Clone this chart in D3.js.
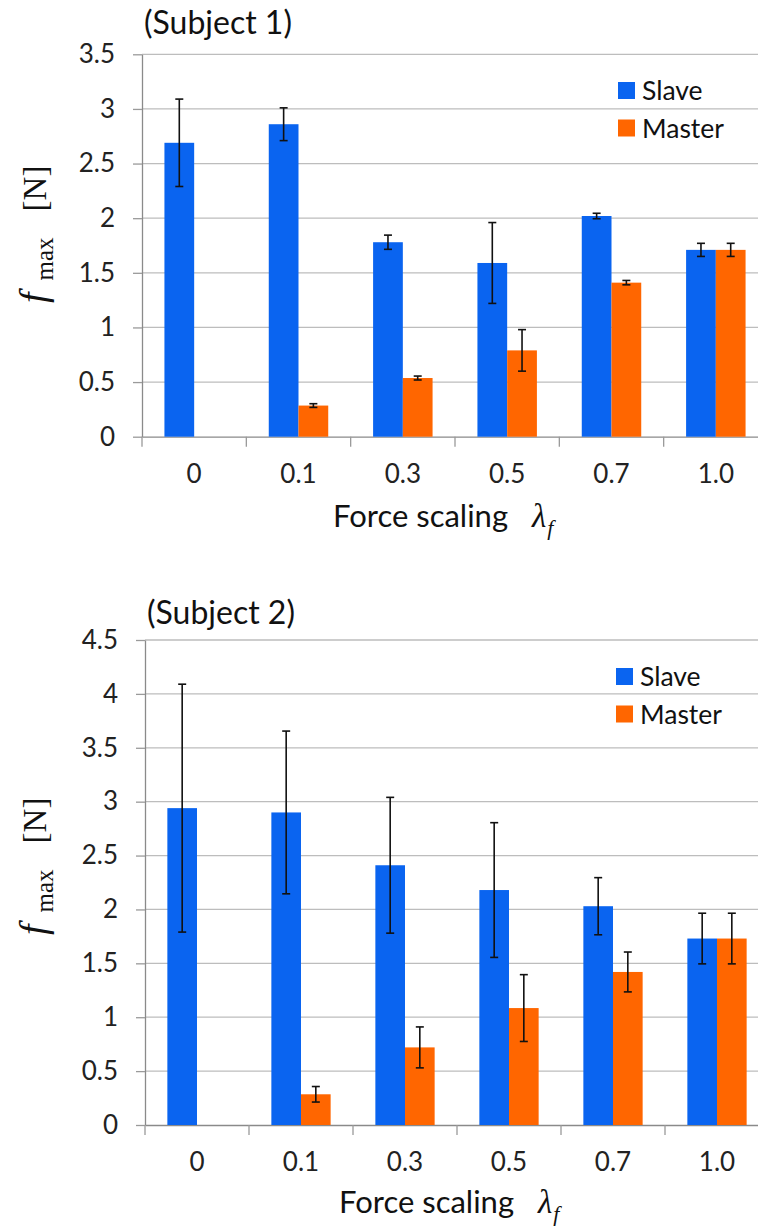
<!DOCTYPE html>
<head>
    <style>
        body { margin: 0; background: #fff; }
        svg { display: block; background: #fff; }
        .tick text { font-family: Lato, sans-serif; fill: #222; }
    </style>
</head>
<body>
    <script src="https://d3js.org/d3.v7.min.js"></script>
    <script>
        // force scaling categories (shared by both subjects)
        var categories = ['0', '0.1', '0.3', '0.5', '0.7', '1.0'];

        // subject 1
        var s1Ticks = [0, 0.5, 1, 1.5, 2, 2.5, 3, 3.5];
        var s1Slave = [2.69, 2.86, 1.78, 1.59, 2.02, 1.71];
        var s1SlaveErr = [0.40, 0.15, 0.065, 0.37, 0.025, 0.06];
        var s1Master = [null, 0.285, 0.537, 0.79, 1.41, 1.71];
        var s1MasterErr = [null, 0.017, 0.018, 0.19, 0.02, 0.06];

        // subject 2
        var s2Ticks = [0, 0.5, 1, 1.5, 2, 2.5, 3, 3.5, 4, 4.5];
        var s2Slave = [2.94, 2.90, 2.41, 2.18, 2.03, 1.73];
        var s2SlaveErr = [1.15, 0.755, 0.63, 0.625, 0.265, 0.235];
        var s2Master = [null, 0.285, 0.72, 1.085, 1.42, 1.73];
        var s2MasterErr = [null, 0.072, 0.19, 0.31, 0.185, 0.235];

        var blue = '#0a64f0', orange = '#ff6600';
        var serif = '"Liberation Serif", "DejaVu Serif", serif';

        var svg = d3.select('body')
                    .append('svg')
                    .attr('width', 758)
                    .attr('height', 1227);

        function panel(c) {
            var x = d3.scaleBand().domain(categories).range([c.left, c.right]);
            var y = d3.scaleLinear().domain([0, c.yMax]).range([c.bottom, c.top]);
            var bw = x.bandwidth() * 0.285;
            var g = svg.append('g');

            // gridlines
            g.selectAll('line.grid')
             .data(c.ticks.slice(1))
             .enter()
             .append('line')
             .attr('x1', c.left).attr('x2', c.right)
             .attr('y1', d => y(d)).attr('y2', d => y(d))
             .attr('stroke', '#bdbdbd').attr('stroke-width', 1.3);

            // y axis
            var ya = g.append('g')
                      .attr('transform', 'translate(' + c.left + ',0)')
                      .call(d3.axisLeft(y).tickValues(c.ticks).tickFormat(d => String(d))
                              .tickSize(9).tickSizeOuter(0).tickPadding(18));
            ya.selectAll('line').attr('stroke', '#9a9a9a').attr('stroke-width', 1.3);
            ya.select('.domain').attr('stroke', '#8a8a8a').attr('stroke-width', 1.3);
            ya.selectAll('text').attr('font-size', 26);

            // x axis: labels at band centres, ticks at band edges
            var xa = g.append('g')
                      .attr('transform', 'translate(0,' + c.bottom + ')')
                      .call(d3.axisBottom(x).tickSize(0).tickPadding(28));
            xa.select('.domain').attr('stroke', '#8a8a8a').attr('stroke-width', 1.3);
            xa.selectAll('text').attr('font-size', 26);
            xa.selectAll('line.edge')
              .data(categories)
              .enter()
              .append('line')
              .attr('x1', d => x(d)).attr('x2', d => x(d))
              .attr('y1', 0).attr('y2', 10)
              .attr('stroke', '#9a9a9a').attr('stroke-width', 1.3);

            // bars
            var series = [
                { vals: c.slave, errs: c.slaveErr, color: blue, off: -bw },
                { vals: c.master, errs: c.masterErr, color: orange, off: 0 }
            ];
            series.forEach(function(s) {
                var rows = categories.map((k, i) => ({ k: k, v: s.vals[i], e: s.errs[i] }))
                                     .filter(r => r.v !== null);
                g.selectAll(null)
                 .data(rows)
                 .enter()
                 .append('rect')
                 .attr('x', r => x(r.k) + x.bandwidth() / 2 + s.off)
                 .attr('y', r => y(r.v))
                 .attr('width', bw)
                 .attr('height', r => y(0) - y(r.v))
                 .attr('fill', s.color);

                var eb = g.selectAll(null)
                          .data(rows)
                          .enter()
                          .append('g')
                          .attr('transform', r => 'translate(' + (x(r.k) + x.bandwidth() / 2 + s.off + bw / 2) + ',0)')
                          .attr('stroke', '#111')
                          .attr('stroke-width', 1.6);
                eb.append('line').attr('y1', r => y(r.v + r.e)).attr('y2', r => y(r.v - r.e));
                eb.append('line').attr('x1', -4).attr('x2', 4)
                  .attr('y1', r => y(r.v + r.e)).attr('y2', r => y(r.v + r.e));
                eb.append('line').attr('x1', -4).attr('x2', 4)
                  .attr('y1', r => y(r.v - r.e)).attr('y2', r => y(r.v - r.e));
            });

            // title
            g.append('text')
             .attr('x', c.left + 2).attr('y', c.titleY)
             .attr('font-family', 'Lato, sans-serif').attr('font-size', 32)
             .attr('fill', '#111')
             .text(c.title);

            // legend
            var leg = g.selectAll('g.leg')
                       .data([['Slave', blue], ['Master', orange]])
                       .enter()
                       .append('g')
                       .attr('transform', (d, i) => 'translate(' + c.legX + ',' + (c.legY + i * 37.5) + ')');
            leg.append('rect').attr('width', 17).attr('height', 17).attr('fill', d => d[1]);
            leg.append('text')
               .attr('x', 24).attr('y', 8.5).attr('dy', '0.36em')
               .attr('font-family', 'Lato, sans-serif').attr('font-size', 26.5)
               .attr('fill', '#111')
               .text(d => d[0]);

            // y label: f_max [N], starts at the bottom
            var yl = g.append('text')
                      .attr('transform', 'translate(' + c.ylX + ',' + c.ylY + ') rotate(-90)')
                      .attr('font-family', serif)
                      .attr('fill', '#111');
            yl.append('tspan').attr('font-style', 'italic').attr('font-size', 38).text('f');
            yl.append('tspan').attr('font-size', 25).attr('dy', 7).attr('dx', 12).text('max');
            yl.append('tspan').attr('font-size', 33).attr('dy', -7).attr('dx', 26).text('[N]');

            // x label: Force scaling λ_f
            var xl = g.append('text')
                      .attr('x', c.xlX).attr('y', c.xlY)
                      .attr('fill', '#111');
            xl.append('tspan').attr('font-family', 'Lato, sans-serif').attr('font-size', 31).text('Force scaling');
            xl.append('tspan').attr('font-family', serif)
              .attr('font-style', 'italic').attr('font-size', 33).attr('dx', 24).text('λ');
            xl.append('tspan').attr('font-family', serif)
              .attr('font-style', 'italic').attr('font-size', 22).attr('dy', 8).attr('dx', 1).text('f');
        }

        panel({
            left: 142, right: 768, top: 54.3, bottom: 436.7, yMax: 3.5, ticks: s1Ticks,
            slave: s1Slave, slaveErr: s1SlaveErr, master: s1Master, masterErr: s1MasterErr,
            title: '(Subject 1)', titleY: 34, legX: 618, legY: 82,
            ylX: 46, ylY: 303, xlX: 333, xlY: 527
        });

        panel({
            left: 145, right: 769, top: 640, bottom: 1125, yMax: 4.5, ticks: s2Ticks,
            slave: s2Slave, slaveErr: s2SlaveErr, master: s2Master, masterErr: s2MasterErr,
            title: '(Subject 2)', titleY: 624, legX: 616, legY: 668,
            ylX: 46, ylY: 935, xlX: 339, xlY: 1213
        });
    </script>
</body>
